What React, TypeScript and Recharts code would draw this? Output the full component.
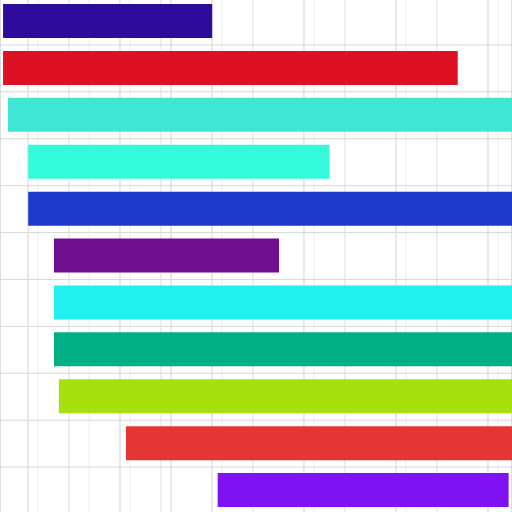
import { BarChart, Bar, Cell, XAxis, YAxis, CartesianGrid } from 'recharts';

// tasks, top to bottom; times are in days from the left edge of the view
const tasks = ['Task 1', 'Task 2', 'Task 3', 'Task 4', 'Task 5', 'Task 6', 'Task 7', 'Task 8', 'Task 9', 'Task 10', 'Task 11'];
const starts = [1, 1, 2.6, 9.2, 9.2, 17.6, 17.6, 17.6, 19.2, 41.1, 71.0];
const ends = [69.2, 149.3, 175, 107.5, 175, 91.0, 175, 175, 175, 175, 165.9];
const colors = ['#2e0b9b', '#de1124', '#40e6d4', '#34fbdc', '#1d3acc', '#6f0f8f', '#22f0ee', '#00b084', '#a6e00f', '#e53535', '#7f12f2'];

// vertical grid ticks (days)
const majorTicks = [9.13, 25.77, 39.14, 55.77, 69.15, 85.78, 99.15, 115.79, 129.16, 145.8, 159.17];
const midTicks = [22.5, 52.5, 82.5, 112.5, 142.5];
const minorTicks = [5.87, 12.39, 29.03, 35.88, 42.4, 72.4, 102.4, 132.4, 162.4];

const DOMAIN: [number, number] = [0, 167];

const data = tasks.map((name, i) => ({
  name,
  span: [starts[i], ends[i]],
}));

// row separators sit on the band edges of the task rows
const rowEdges = ({ offset }: any) => {
  const step = offset.height / tasks.length;
  return tasks.slice(1).map((_, i) => offset.top + step * (i + 1));
};

export default function App() {
  return (
    <div style={{ position: 'absolute', left: 0, top: -1.6, width: 512, height: 516 }}>
      <BarChart
        width={512}
        height={516}
        data={data}
        layout="vertical"
        margin={{ top: 0, right: 0, bottom: 0, left: 0 }}
      >
        <XAxis xAxisId="time" type="number" domain={DOMAIN} allowDataOverflow hide />
        <XAxis xAxisId="major" type="number" domain={DOMAIN} ticks={majorTicks} allowDataOverflow hide />
        <XAxis xAxisId="mid" type="number" domain={DOMAIN} ticks={midTicks} allowDataOverflow hide />
        <XAxis xAxisId="minor" type="number" domain={DOMAIN} ticks={minorTicks} allowDataOverflow hide />
        <YAxis yAxisId="tasks" type="category" dataKey="name" hide />

        <CartesianGrid xAxisId="minor" yAxisId="tasks" horizontal={false} stroke="#eeeeee" />
        <CartesianGrid xAxisId="mid" yAxisId="tasks" horizontal={false} stroke="#dedede" />
        <CartesianGrid xAxisId="major" yAxisId="tasks" horizontal={false} stroke="#d2d2d2" />
        <CartesianGrid
          xAxisId="major"
          yAxisId="tasks"
          vertical={false}
          stroke="#d8d8d8"
          horizontalCoordinatesGenerator={rowEdges}
        />

        <Bar xAxisId="time" yAxisId="tasks" dataKey="span" barSize={34} isAnimationActive={false}>
          {data.map((d, i) => (
            <Cell key={d.name} fill={colors[i]} />
          ))}
        </Bar>
      </BarChart>
    </div>
  );
}
